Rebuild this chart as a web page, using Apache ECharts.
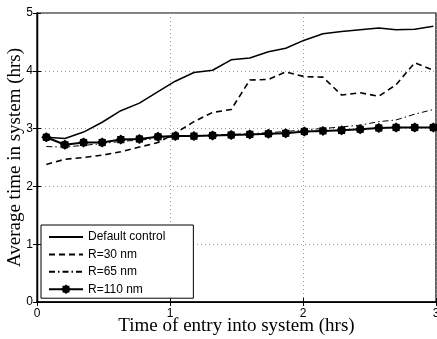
<!DOCTYPE html>
<html><head><meta charset="utf-8">
<script src="https://cdn.jsdelivr.net/npm/echarts@6/dist/echarts.min.js"></script>
<style>html,body{margin:0;padding:0;background:#fff}#c{width:437px;height:339px}</style>
</head><body><div id="c"></div>
<script>
var times = [0.07,0.21,0.35,0.49,0.63,0.77,0.91,1.04,1.18,1.32,1.46,1.60,1.74,1.87,2.01,2.15,2.29,2.43,2.57,2.70,2.84,2.98];
var defaultControl = [2.85,2.83,2.94,3.11,3.31,3.44,3.64,3.82,3.97,4.01,4.19,4.22,4.33,4.39,4.53,4.64,4.68,4.71,4.74,4.71,4.72,4.77];
var r30 = [2.38,2.47,2.50,2.54,2.60,2.68,2.76,2.92,3.12,3.28,3.33,3.84,3.85,3.98,3.90,3.89,3.58,3.62,3.56,3.76,4.14,4.01];
var r65 = [2.69,2.68,2.71,2.74,2.78,2.80,2.83,2.86,2.87,2.89,2.90,2.91,2.93,2.95,2.98,3.00,3.03,3.06,3.12,3.15,3.25,3.33];
var r110 = [2.85,2.72,2.76,2.76,2.81,2.82,2.86,2.87,2.87,2.88,2.89,2.90,2.91,2.92,2.95,2.96,2.97,2.99,3.01,3.02,3.02,3.02];
var seriesNames = ['Default control','R=30 nm','R=65 nm','R=110 nm'];
var xTicks = ['0','1','2','3'];
var yTicks = ['0','1','2','3','4','5'];

function pairs(ys){ return times.map(function(t,i){ return [t, ys[i]]; }); }
var star = 'path://M0,-10 L3.2,-7.4 L7.1,-7.1 L7.4,-3.2 L10,0 L7.4,3.2 L7.1,7.1 L3.2,7.4 L0,10 L-3.2,7.4 L-7.1,7.1 L-7.4,3.2 L-10,0 L-7.4,-3.2 L-7.1,-7.1 L-3.2,-7.4 Z';
var sans = 'Liberation Sans';
var serif = 'Liberation Serif';
var chart = echarts.init(document.getElementById('c'), null, {renderer:'canvas'});
var gridLine = {show:true, lineStyle:{color:'#999', type:[1,3], width:1}};
var hiddenMark = {color:'rgba(0,0,0,0)', borderWidth:0, opacity:0};
chart.setOption({
  animation:false,
  backgroundColor:'#fff',
  grid:{left:37, right:1, top:13, bottom:37, outerBoundsMode:'none', containLabel:false,
        show:true, borderColor:'#000', borderWidth:1.2},
  legend:{
    orient:'vertical', left:41, top:225,
    data:[
      {name:seriesNames[0], itemStyle:hiddenMark},
      {name:seriesNames[1], itemStyle:hiddenMark},
      {name:seriesNames[2], itemStyle:hiddenMark},
      {name:seriesNames[3]}
    ],
    backgroundColor:'#fff', borderColor:'#000', borderWidth:1,
    padding:[5,28,2,7], itemWidth:34, itemHeight:12, itemGap:3.4, itemTextGap:5,
    textStyle:{fontFamily:sans, fontSize:12, color:'#000', lineHeight:14},
    inactiveColor:'#000'
  },
  xAxis:[{
    type:'value', min:0, max:3, interval:1,
    name:'Time of entry into system (hrs)', nameLocation:'middle', nameGap:15, nameMoveOverlap:false,
    nameTextStyle:{fontFamily:serif, fontSize:19, color:'#000'},
    axisLine:{show:true, lineStyle:{color:'#000', width:1.6}},
    axisTick:{show:true, inside:true, length:4, lineStyle:{color:'#000'}},
    axisLabel:{fontFamily:sans, fontSize:12, color:'#000', margin:6,
      formatter:function(v){ return xTicks[Math.round(v)]; }},
    splitLine:gridLine
  },{
    type:'value', min:0, max:3, interval:1, position:'top',
    axisLine:{show:true, lineStyle:{color:'#000', width:1.2}},
    axisTick:{show:true, inside:true, length:4, lineStyle:{color:'#000'}},
    axisLabel:{show:false}, splitLine:{show:false}
  }],
  yAxis:[{
    type:'value', min:0, max:5, interval:1,
    name:'Average time in system (hrs)', nameLocation:'middle', nameGap:12, nameMoveOverlap:false,
    nameTextStyle:{fontFamily:serif, fontSize:19, color:'#000'},
    axisLine:{show:true, lineStyle:{color:'#000', width:1.4}},
    axisTick:{show:true, inside:true, length:4, lineStyle:{color:'#000'}},
    axisLabel:{fontFamily:sans, fontSize:12, color:'#000', margin:4,
      formatter:function(v){ return yTicks[Math.round(v)]; }},
    splitLine:gridLine
  },{
    type:'value', min:0, max:5, interval:1, position:'right',
    axisLine:{show:true, lineStyle:{color:'#000', width:1.2}},
    axisTick:{show:true, inside:true, length:4, lineStyle:{color:'#000'}},
    axisLabel:{show:false}, splitLine:{show:false}
  }],
  series:[
    {name:seriesNames[0], type:'line', data:pairs(defaultControl), symbol:'none', color:'#000',
     lineStyle:{color:'#000', width:1.5, type:'solid'}, z:3},
    {name:seriesNames[1], type:'line', data:pairs(r30), symbol:'none', color:'#000',
     lineStyle:{color:'#000', width:1.6, type:[6,4]}, z:3},
    {name:seriesNames[2], type:'line', data:pairs(r65), symbol:'none', color:'#000',
     lineStyle:{color:'#000', width:1, type:[6,3,1.5,3]}, z:3},
    {name:seriesNames[3], type:'line', data:pairs(r110), symbol:star, symbolSize:10, showSymbol:true, color:'#000',
     itemStyle:{color:'#000'}, lineStyle:{color:'#000', width:2, type:'solid'}, z:4}
  ]
});
</script></body></html>
